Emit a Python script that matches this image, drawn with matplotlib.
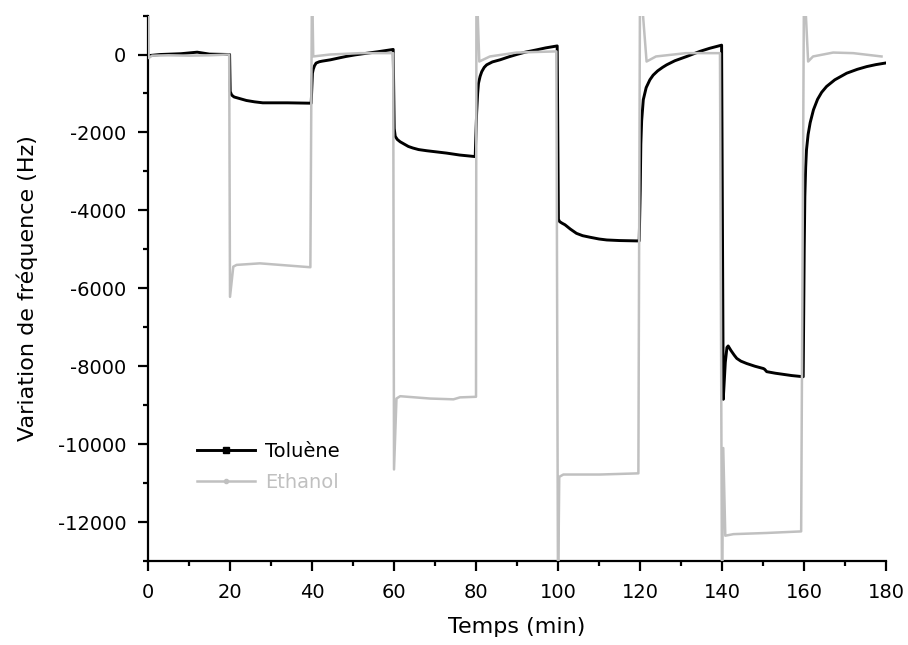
import matplotlib
matplotlib.use("Agg")
import matplotlib.pyplot as plt
from matplotlib.lines import Line2D
from matplotlib.ticker import MultipleLocator

plt.rcParams["font.family"] = ["DejaVu Sans"]
plt.rcParams["axes.unicode_minus"] = False

# Toluene response (time in min, frequency shift in Hz)
toluene_t = [0, 3, 8, 12, 15, 19.9,
             20.05, 20.4, 21, 22, 24, 26, 28, 34, 39.8,
             40.1, 40.3, 40.6, 41, 41.8, 42.5, 44.5, 46.5, 48.3, 50.5,
             52.5, 56, 59.8,
             60.05, 60.3, 60.8, 61.5, 62.5, 63.5, 64.6, 66, 68, 72.8, 76,
             79.8,
             80.15, 80.4, 80.6, 81, 81.4, 82, 82.6, 84, 85.9, 88, 89.9, 92,
             94.8, 97, 99.8,
             100.1, 100.4, 101, 101.7, 103, 104.5, 106, 107.8, 110, 111.9,
             115, 119.8,
             120.05, 120.2, 120.4, 120.8, 121.5, 122.4, 123.2, 124.3, 125.5,
             126.5, 128.5, 131.4, 134.6, 137, 139.9,
             140.3, 140.8, 141.2, 141.5, 142.2, 143, 143.6, 144.6, 146, 148,
             150.1, 150.4, 150.9, 153, 155, 157, 159.8,
             160.05, 160.2, 160.4, 160.6, 161, 161.5, 162.3, 163.3, 164.3,
             165.5, 167.5, 170.4, 173, 175.3, 177.5, 179.8]
toluene_f = [-30, 0, 20, 60, 10, 0,
             -950, -1040, -1090, -1120, -1180, -1215, -1240, -1240, -1250,
             -480, -380, -290, -220, -185, -170, -136, -90, -50, -10,
             20, 70, 130,
             -1900, -2100, -2180, -2240, -2300, -2360, -2400, -2440, -2470,
             -2530, -2580, -2620,
             -1500, -1000, -740, -560, -440, -330, -265, -190, -135, -60, 0,
             60, 120, 170, 220,
             -4230, -4290, -4330, -4370, -4480, -4590, -4650, -4690, -4735,
             -4760, -4775, -4785,
             -3500, -2300, -1700, -1160, -850, -650, -530, -420, -330,
             -265, -160, -50, 80, 160, 240,
             -8850, -7900, -7520, -7480, -7600, -7720, -7800, -7870, -7930,
             -8000, -8060, -8080, -8140, -8180, -8210, -8240, -8270,
             -5000, -3650, -2900, -2450, -2050, -1750, -1420, -1150, -970,
             -820, -650, -480, -380, -310, -260, -220]

# Ethanol response (time in min, frequency shift in Hz)
ethanol_t = [0, 0.15, 1, 5, 10, 15, 19.8,
             20.0, 20.8, 21.6, 27.3, 32.2, 39.6,
             40.0, 40.3, 44.4, 51.7, 59.8,
             60.0, 60.6, 61.5, 68.8, 74.5, 76.1, 80.0,
             80.1, 80.8, 83.4, 89.9, 99.6,
             100.0, 100.3, 101.3, 110.2, 119.6,
             120.0, 121.6, 123.9, 131.2, 139.5,
             140.0, 140.3, 140.8, 142.8, 150.9, 159.3,
             160.0, 161.0, 162.2, 167.1, 172.0, 178.9]
ethanol_f = [2000, -90, -30, -20, -30, -20, 0,
             -6220, -5445, -5400, -5360, -5400, -5460,
             2000, -50, 0, 35, 35,
             -10650, -8830, -8770, -8830, -8850, -8800, -8785,
             2000, -180, -50, 50, 80,
             -14000, -10840, -10780, -10780, -10750,
             2000, -180, -50, 35, 35,
             -14000, -10100, -12350, -12310, -12280, -12240,
             2000, -180, -50, 50, 35, -50]

x_ticks = [0, 20, 40, 60, 80, 100, 120, 140, 160, 180]
y_ticks = [0, -2000, -4000, -6000, -8000, -10000, -12000]

black = "#000000"
grey = "#c0c0c0"

fig = plt.figure(figsize=(9.08, 6.45), dpi=100)
ax = fig.add_axes([0.1630, 0.1302, 0.8128, 0.8457])

ax.plot(toluene_t, toluene_f, color=black, lw=2.1, zorder=2,
        solid_joinstyle="round")
ax.plot(ethanol_t, ethanol_f, color=grey, lw=1.8, zorder=3,
        solid_joinstyle="round")

ax.set_xlim(0, 180)
ax.set_ylim(-13000, 1000)
ax.set_xticks(x_ticks)
ax.set_yticks(y_ticks)
ax.xaxis.set_minor_locator(MultipleLocator(10))
ax.yaxis.set_minor_locator(MultipleLocator(1000))

for side in ("top", "right"):
    ax.spines[side].set_visible(False)
for side in ("left", "bottom"):
    ax.spines[side].set_linewidth(1.6)

ax.tick_params(which="major", direction="out", length=7.5, width=1.6,
               labelsize=14, pad=8)
ax.tick_params(which="minor", direction="out", length=3.8, width=1.6)

ax.set_xlabel("Temps (min)", fontsize=16, labelpad=11)
ax.set_ylabel("Variation de fréquence (Hz)", fontsize=16, labelpad=14)

handles = [
    Line2D([], [], color=black, lw=2.1, marker="s", markersize=4),
    Line2D([], [], color=grey, lw=1.8, marker="o", markersize=3),
]
leg = ax.legend(handles, ["Toluène", "Ethanol"], loc="upper left",
                bbox_to_anchor=(0.066, 0.218), frameon=False, fontsize=14,
                handlelength=3.0, handletextpad=0.5, labelspacing=0.6,
                borderpad=0, borderaxespad=0, numpoints=1)
for txt, col in zip(leg.get_texts(), (black, grey)):
    txt.set_color(col)

fig.savefig("out.png", dpi=100)
